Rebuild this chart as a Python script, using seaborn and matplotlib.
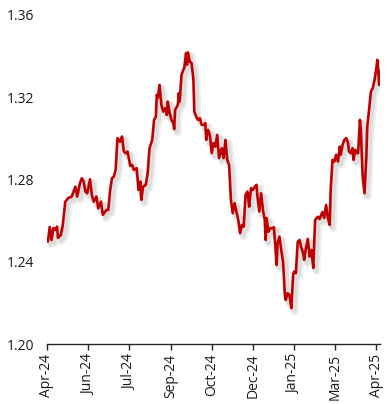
import pandas as pd
import matplotlib
matplotlib.use("Agg")
import matplotlib.pyplot as plt
import matplotlib.dates as mdates
import matplotlib.patheffects as pe
import seaborn as sns

# Daily rate
dates = [
    "2024-04-23", "2024-04-25", "2024-04-27", "2024-04-29", "2024-05-01", "2024-05-03", "2024-05-04",
    "2024-05-07", "2024-05-09", "2024-05-12", "2024-05-15", "2024-05-19", "2024-05-23", "2024-05-25",
    "2024-05-28", "2024-05-30", "2024-06-01", "2024-06-03", "2024-06-05", "2024-06-08", "2024-06-10",
    "2024-06-12", "2024-06-15", "2024-06-17", "2024-06-20", "2024-06-22", "2024-06-26", "2024-06-28",
    "2024-06-30", "2024-07-02", "2024-07-04", "2024-07-06", "2024-07-08", "2024-07-11", "2024-07-13",
    "2024-07-15", "2024-07-17", "2024-07-19", "2024-07-22", "2024-07-24", "2024-07-26", "2024-07-29",
    "2024-07-31", "2024-08-02", "2024-08-03", "2024-08-05", "2024-08-08", "2024-08-10", "2024-08-12",
    "2024-08-15", "2024-08-17", "2024-08-19", "2024-08-20", "2024-08-21", "2024-08-23", "2024-08-25",
    "2024-08-27", "2024-08-29", "2024-08-31", "2024-09-01", "2024-09-03", "2024-09-05", "2024-09-07",
    "2024-09-08", "2024-09-09", "2024-09-12", "2024-09-13", "2024-09-14", "2024-09-16", "2024-09-18",
    "2024-09-19", "2024-09-21", "2024-09-22", "2024-09-23", "2024-09-25", "2024-09-27", "2024-09-29",
    "2024-09-30", "2024-10-02", "2024-10-04", "2024-10-06", "2024-10-08", "2024-10-11", "2024-10-12",
    "2024-10-13", "2024-10-15", "2024-10-17", "2024-10-19", "2024-10-21", "2024-10-23", "2024-10-25",
    "2024-10-27", "2024-10-30", "2024-11-01", "2024-11-03", "2024-11-05", "2024-11-07", "2024-11-09",
    "2024-11-11", "2024-11-13", "2024-11-15", "2024-11-17", "2024-11-19", "2024-11-21", "2024-11-23",
    "2024-11-25", "2024-11-27", "2024-11-29", "2024-11-30", "2024-12-01", "2024-12-03", "2024-12-05",
    "2024-12-07", "2024-12-08", "2024-12-10", "2024-12-12", "2024-12-14", "2024-12-16", "2024-12-17",
    "2024-12-18", "2024-12-20", "2024-12-22", "2024-12-24", "2024-12-26", "2024-12-27", "2024-12-29",
    "2024-12-30", "2025-01-01", "2025-01-03", "2025-01-05", "2025-01-07", "2025-01-08", "2025-01-10",
    "2025-01-12", "2025-01-14", "2025-01-16", "2025-01-17", "2025-01-19", "2025-01-21", "2025-01-23",
    "2025-01-25", "2025-01-27", "2025-01-28", "2025-01-30", "2025-02-01", "2025-02-03", "2025-02-05",
    "2025-02-07", "2025-02-09", "2025-02-12", "2025-02-14", "2025-02-17", "2025-02-19", "2025-02-21",
    "2025-02-23", "2025-02-25", "2025-02-26", "2025-02-28", "2025-03-02", "2025-03-04", "2025-03-06",
    "2025-03-08", "2025-03-09", "2025-03-11", "2025-03-13", "2025-03-15", "2025-03-17", "2025-03-18",
    "2025-03-20", "2025-03-22", "2025-03-23", "2025-03-25", "2025-03-27", "2025-03-28", "2025-03-30",
    "2025-03-31", "2025-04-02", "2025-04-04", "2025-04-06", "2025-04-07", "2025-04-09", "2025-04-11",
    "2025-04-13", "2025-04-15", "2025-04-17", "2025-04-18", "2025-04-19", "2025-04-20", "2025-04-21",
]
rate = [
    1.2498, 1.2569, 1.2506, 1.2564, 1.2555, 1.2571, 1.2516,
    1.2530, 1.2571, 1.2692, 1.2709, 1.2717, 1.2765, 1.2717,
    1.2782, 1.2806, 1.2790, 1.2741, 1.2733, 1.2801, 1.2725,
    1.2692, 1.2717, 1.2660, 1.2692, 1.2628, 1.2652, 1.2652,
    1.2749, 1.2806, 1.2814, 1.2847, 1.3001, 1.2984, 1.3009,
    1.2936, 1.2928, 1.2936, 1.2866, 1.2871, 1.2847, 1.2855,
    1.2749, 1.2790, 1.2701, 1.2765, 1.2774, 1.2831, 1.2952,
    1.2993, 1.3090, 1.3106, 1.3212, 1.3196, 1.3260, 1.3163,
    1.3130, 1.3147, 1.3114, 1.3179, 1.3123, 1.3090, 1.3074,
    1.3045, 1.3139, 1.3163, 1.3220, 1.3179, 1.3309, 1.3333,
    1.3342, 1.3415, 1.3358, 1.3418, 1.3374, 1.3366, 1.3285,
    1.3130, 1.3106, 1.3090, 1.3098, 1.3066, 1.3066, 1.3074,
    1.2993, 1.3041, 1.3017, 1.2928, 1.2977, 1.2960, 1.3017,
    1.2904, 1.2952, 1.2904, 1.2993, 1.2895, 1.2871, 1.2701,
    1.2636, 1.2685, 1.2644, 1.2603, 1.2539, 1.2579, 1.2571,
    1.2725, 1.2741, 1.2668, 1.2717, 1.2758, 1.2749, 1.2765,
    1.2774, 1.2717, 1.2644, 1.2733, 1.2652, 1.2603, 1.2506,
    1.2612, 1.2546, 1.2563, 1.2563, 1.2568, 1.2506, 1.2384,
    1.2490, 1.2522, 1.2457, 1.2400, 1.2238, 1.2214, 1.2247,
    1.2238, 1.2174, 1.2336, 1.2352, 1.2345, 1.2496, 1.2506,
    1.2467, 1.2441, 1.2409, 1.2466, 1.2511, 1.2425, 1.2457,
    1.2370, 1.2603, 1.2619, 1.2608, 1.2642, 1.2613, 1.2676,
    1.2613, 1.2579, 1.2749, 1.2895, 1.2887, 1.2920, 1.2887,
    1.2960, 1.2920, 1.2968, 1.2993, 1.3001, 1.2977, 1.2936,
    1.2928, 1.2952, 1.2895, 1.2944, 1.2928, 1.2928, 1.3090,
    1.3041, 1.2814, 1.2733, 1.2911, 1.3057, 1.3139, 1.3228,
    1.3244, 1.3285, 1.3342, 1.3382, 1.3333, 1.3260, 1.3324,
]
y_ticks = [1.20, 1.24, 1.28, 1.32, 1.36]
axis_start = "2024-04-22"
axis_end = "2025-04-21"

df = pd.DataFrame({"date": pd.to_datetime(dates), "rate": rate})

sns.set_style("white")
plt.rcParams["font.family"] = ["Open Sans", "DejaVu Sans"]

fig = plt.figure(figsize=(3.9, 4.04), dpi=100)
ax = fig.add_axes([0.1205, 0.1485, 0.854, 0.8144])

sns.lineplot(data=df, x="date", y="rate", color="#C00000", linewidth=1.9, ax=ax)

# soft drop shadow like the Excel line effect
line = ax.lines[0]
line.set_path_effects([
    pe.SimpleLineShadow(offset=(2.5, -2.5), shadow_color="#888888", alpha=0.12, linewidth=5.5),
    pe.SimpleLineShadow(offset=(2, -2), shadow_color="#888888", alpha=0.18, linewidth=3.5),
    pe.Normal(),
])

start = pd.Timestamp(axis_start)
ticks = [start + pd.Timedelta(days=45 * k) for k in range(9)]
ax.set_xlim(start, pd.Timestamp(axis_end))
ax.set_xticks(ticks)
ax.xaxis.set_major_formatter(mdates.DateFormatter("%b-%y"))
ax.set_ylim(1.20, 1.36)
ax.set_yticks(y_ticks)
ax.set_yticklabels([f"{v:.2f}" for v in y_ticks])

ax.set_xlabel("")
ax.set_ylabel("")
sns.despine(ax=ax, left=True, top=True, right=True)
ax.spines["bottom"].set_color("#262626")
ax.spines["bottom"].set_linewidth(1.0)

ax.tick_params(axis="x", direction="out", length=4, width=1, color="#262626",
               pad=3, labelsize=10, labelcolor="#1a1a1a", rotation=90, bottom=True)
ax.tick_params(axis="y", length=0, pad=9, labelsize=10, labelcolor="#1a1a1a")
ax.grid(False)

fig.savefig("out.png", dpi=100)
